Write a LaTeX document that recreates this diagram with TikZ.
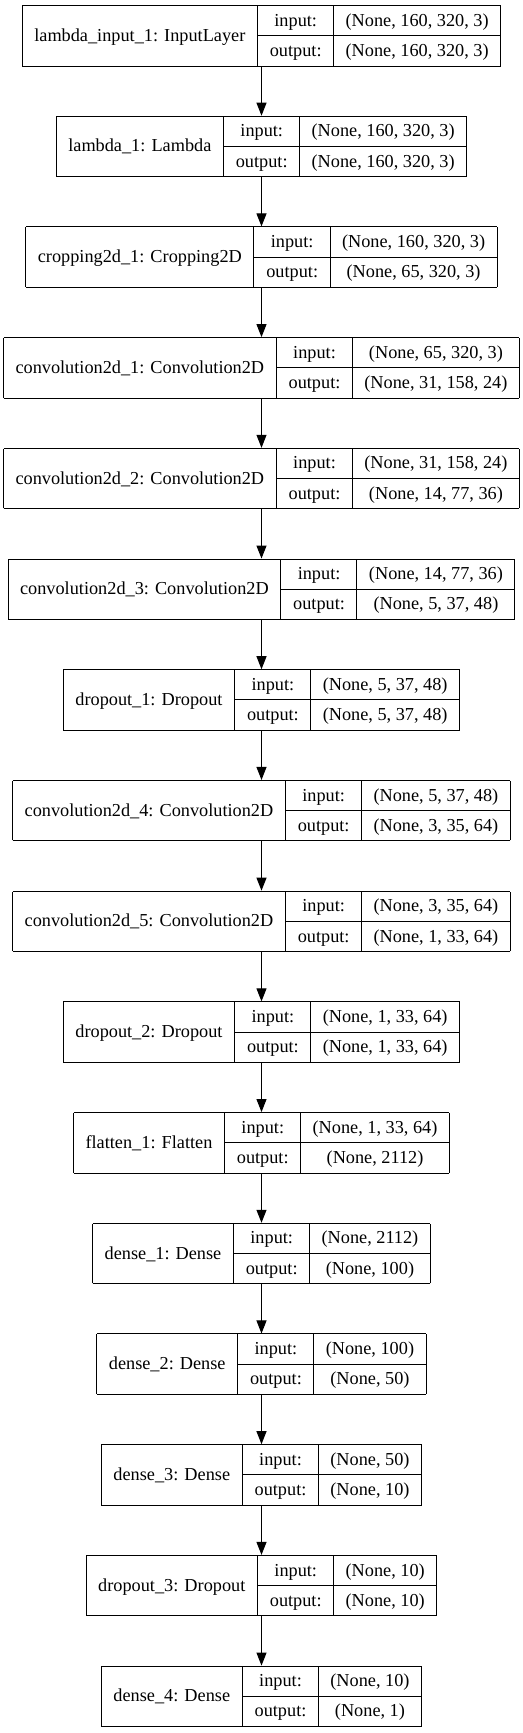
\documentclass[tikz,border=0pt]{standalone}
\usepackage{fontspec}
\setmainfont{Liberation Serif}
\usepackage{tikz}
\usetikzlibrary{arrows.meta, positioning}

\setlength{\tabcolsep}{9pt}
\setlength{\arrayrulewidth}{0.75pt}
\newcommand{\recfont}{\fontsize{13.7pt}{16pt}\selectfont}
\newcommand{\cellstrut}{\rule[-6.87pt]{0pt}{21.94pt}}
% one keras layer record: name | input:/output: | shapes
\newcommand{\rec}[3]{%
  \begin{tabular}{|c|@{}c@{}|}\hline
    \begin{tabular}{@{}c@{}}\cellstrut #1\end{tabular} &
    \begin{tabular}{c|c}
      \cellstrut input: & #2\\ \hline
      \cellstrut output: & #3
    \end{tabular}\\ \hline
  \end{tabular}}

\begin{document}
\begin{tikzpicture}[node distance=36.9pt, >={Triangle[length=9.75pt,width=7.5pt]},
        layer/.style={inner sep=0pt, outer sep=0pt, font=\recfont},
        flow/.style={->, line width=0.75pt}
    ]
        \useasboundingbox (0,0) rectangle (392.25pt,-1299.75pt);

        % Layers
        \node [layer, anchor=north] (inp) at (196.125pt,-3.75pt) {\rec{lambda\_input\_1: InputLayer}{(None, 160, 320, 3)}{(None, 160, 320, 3)}};
        \node [layer, below=of inp] (lam) {\rec{lambda\_1: Lambda}{(None, 160, 320, 3)}{(None, 160, 320, 3)}};
        \node [layer, below=of lam] (crop) {\rec{cropping2d\_1: Cropping2D}{(None, 160, 320, 3)}{(None, 65, 320, 3)}};
        \node [layer, below=of crop] (convA) {\rec{convolution2d\_1: Convolution2D}{(None, 65, 320, 3)}{(None, 31, 158, 24)}};
        \node [layer, below=of convA] (convB) {\rec{convolution2d\_2: Convolution2D}{(None, 31, 158, 24)}{(None, 14, 77, 36)}};
        \node [layer, below=of convB] (convC) {\rec{convolution2d\_3: Convolution2D}{(None, 14, 77, 36)}{(None, 5, 37, 48)}};
        \node [layer, below=of convC] (dropA) {\rec{dropout\_1: Dropout}{(None, 5, 37, 48)}{(None, 5, 37, 48)}};
        \node [layer, below=of dropA] (convD) {\rec{convolution2d\_4: Convolution2D}{(None, 5, 37, 48)}{(None, 3, 35, 64)}};
        \node [layer, below=of convD] (convE) {\rec{convolution2d\_5: Convolution2D}{(None, 3, 35, 64)}{(None, 1, 33, 64)}};
        \node [layer, below=of convE] (dropB) {\rec{dropout\_2: Dropout}{(None, 1, 33, 64)}{(None, 1, 33, 64)}};
        \node [layer, below=of dropB] (flat) {\rec{flatten\_1: Flatten}{(None, 1, 33, 64)}{(None, 2112)}};
        \node [layer, below=of flat] (denseA) {\rec{dense\_1: Dense}{(None, 2112)}{(None, 100)}};
        \node [layer, below=of denseA] (denseB) {\rec{dense\_2: Dense}{(None, 100)}{(None, 50)}};
        \node [layer, below=of denseB] (denseC) {\rec{dense\_3: Dense}{(None, 50)}{(None, 10)}};
        \node [layer, below=of denseC] (dropC) {\rec{dropout\_3: Dropout}{(None, 10)}{(None, 10)}};
        \node [layer, below=of dropC] (denseD) {\rec{dense\_4: Dense}{(None, 10)}{(None, 1)}};

        % Connectors
        \draw[flow] (inp) -- (lam);
        \draw[flow] (lam) -- (crop);
        \draw[flow] (crop) -- (convA);
        \draw[flow] (convA) -- (convB);
        \draw[flow] (convB) -- (convC);
        \draw[flow] (convC) -- (dropA);
        \draw[flow] (dropA) -- (convD);
        \draw[flow] (convD) -- (convE);
        \draw[flow] (convE) -- (dropB);
        \draw[flow] (dropB) -- (flat);
        \draw[flow] (flat) -- (denseA);
        \draw[flow] (denseA) -- (denseB);
        \draw[flow] (denseB) -- (denseC);
        \draw[flow] (denseC) -- (dropC);
        \draw[flow] (dropC) -- (denseD);
    \end{tikzpicture}
\end{document}
